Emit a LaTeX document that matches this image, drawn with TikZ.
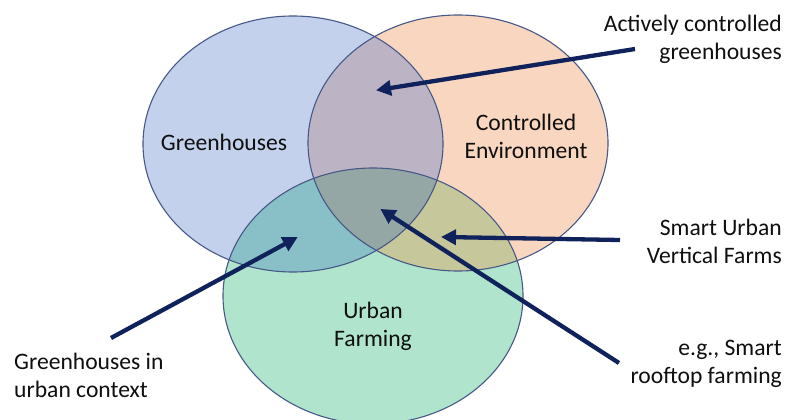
\documentclass[tikz,border=0pt]{standalone}
\usepackage{fontspec}
\setmainfont{Carlito}
\usetikzlibrary{arrows.meta}
\definecolor{cblue}{RGB}{196,209,236}
\definecolor{corange}{RGB}{248,214,192}
\definecolor{cgreen}{RGB}{176,228,205}
\definecolor{cbo}{RGB}{188,180,197}
\definecolor{cbg}{RGB}{137,191,199}
\definecolor{cog}{RGB}{198,200,155}
\definecolor{cbog}{RGB}{148,167,165}
\definecolor{edgec}{RGB}{70,88,135}
\definecolor{navy}{RGB}{16,34,92}
\definecolor{txt}{RGB}{15,15,15}
\tikzset{
  venn/.style={draw=edgec, line width=1.1pt},
  lbl/.style={text=txt, inner sep=0pt, font=\fontsize{23.6}{28}\selectfont},
  pointer/.style={navy, line width=4.3pt, -{Triangle[length=15pt,width=15pt]}, shorten >=-2pt}
}
\begin{document}
\begin{tikzpicture}[x=1pt,y=-1pt]
\useasboundingbox (0,0) rectangle (787,420);
\fill[white] (0,0) rectangle (787,420);
\coordinate (cB) at (293,144);
\coordinate (cO) at (458,143);
\coordinate (cG) at (373,296);
\def\ra{150}\def\rb{128}
% base fills
\fill[cblue] (cB) ellipse [x radius=\ra, y radius=\rb];
\fill[corange] (cO) ellipse [x radius=\ra, y radius=\rb];
\fill[cgreen] (cG) ellipse [x radius=\ra, y radius=\rb];
% pairwise intersections
\begin{scope}
  \clip (cB) ellipse [x radius=\ra, y radius=\rb];
  \fill[cbo] (cO) ellipse [x radius=\ra, y radius=\rb];
  \fill[cbg] (cG) ellipse [x radius=\ra, y radius=\rb];
\end{scope}
\begin{scope}
  \clip (cO) ellipse [x radius=\ra, y radius=\rb];
  \fill[cog] (cG) ellipse [x radius=\ra, y radius=\rb];
  \clip (cG) ellipse [x radius=\ra, y radius=\rb];
  \fill[cbog] (cB) ellipse [x radius=\ra, y radius=\rb];
\end{scope}
% outlines
\draw[venn] (cB) ellipse [x radius=\ra, y radius=\rb];
\draw[venn] (cO) ellipse [x radius=\ra, y radius=\rb];
\draw[venn] (cG) ellipse [x radius=\ra, y radius=\rb];
% set labels
\node[lbl] (gh) at (224,142) {Greenhouses};
\node[lbl, align=center] (ce) at (526,136) {Controlled\\Environment};
\node[lbl, align=center] (uf) at (373,326) {Urban\\Farming};
% callout labels
\node[lbl, align=right, anchor=east] (acg) at (782,39) {Actively controlled\\greenhouses};
\node[lbl, align=right, anchor=east] (suv) at (782,241) {Smart Urban\\Vertical Farms};
\node[lbl, align=right, anchor=east] (rtf) at (782,364) {e.g., Smart\\rooftop farming};
\node[lbl, align=left, anchor=west] (guc) at (14,375) {Greenhouses in\\urban context};
% arrow ends
\coordinate (s1) at (635,49);  \coordinate (t1) at (378,90);
\coordinate (s2) at (620,240); \coordinate (t2) at (443,237);
\coordinate (s3) at (619,363); \coordinate (t3) at (382,210);
\coordinate (s4) at (111,338); \coordinate (t4) at (296,238);
\draw[pointer] (s1) -- (t1);
\draw[pointer] (s2) -- (t2);
\draw[pointer] (s3) -- (t3);
\draw[pointer] (s4) -- (t4);
\end{tikzpicture}
\end{document}
